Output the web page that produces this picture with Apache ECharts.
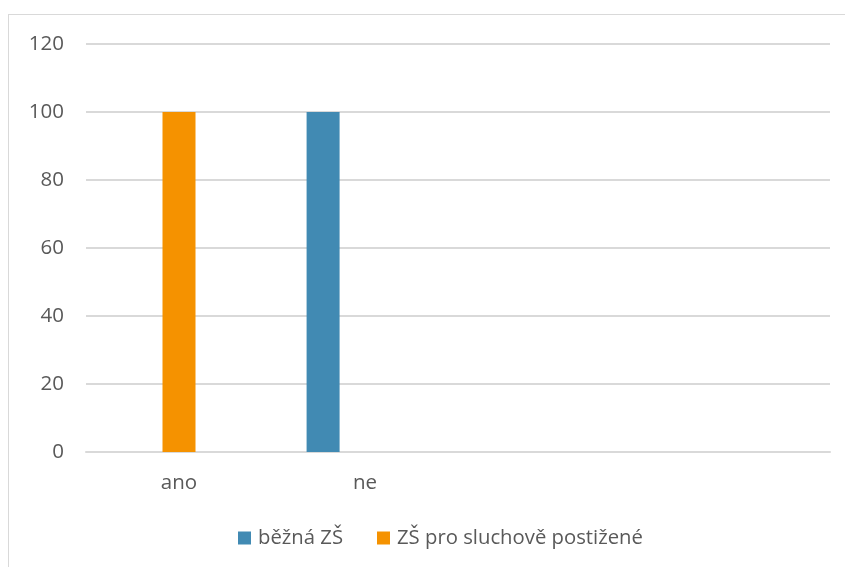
<!DOCTYPE html>
<html>
<head>
<meta charset="utf-8">
<script src="https://cdn.jsdelivr.net/npm/echarts@6/dist/echarts.min.js"></script>
<style>
  html, body { margin: 0; padding: 0; background: #fff; overflow: hidden; }
  #frame {
    position: absolute; left: 8px; top: 14px; width: 900px; height: 600px;
    border: 1px solid #d9d9d9;
  }
  #chart { position: absolute; left: 0; top: 0; width: 845px; height: 567px; }
</style>
</head>
<body>
<div id="frame"></div>
<div id="chart"></div>
<script>
// kategorie a hodnoty
var categories = ['ano', 'ne', '', '']
var bezna = [0, 100, null, null]
var sluchove = [100, 0, null, null]
var yTicks = [0, 20, 40, 60, 80, 100, 120]

var textColor = '#595959'
var chart = echarts.init(document.getElementById('chart'))
chart.setOption({
  animation: false,
  textStyle: { fontFamily: 'Open Sans' },
  legend: {
    bottom: 14,
    left: 233,
    itemWidth: 13,
    itemHeight: 13,
    itemGap: 34,
    icon: 'rect',
    data: ['běžná ZŠ', 'ZŠ pro sluchově postižené'],
    textStyle: { color: textColor, fontSize: 20.3, padding: [0, 0, 0, 2] }
  },
  grid: { left: 86, right: 15, top: 44, bottom: 115 },
  xAxis: {
    type: 'category',
    data: categories,
    axisTick: { show: false },
    axisLine: { lineStyle: { color: '#d9d9d9', width: 2 } },
    axisLabel: { color: textColor, fontSize: 20.5, margin: 21 }
  },
  yAxis: {
    type: 'value',
    min: yTicks[0],
    max: yTicks[yTicks.length - 1],
    interval: 20,
    axisLine: { show: false },
    axisTick: { show: false },
    axisLabel: { color: textColor, fontSize: 20.5, margin: 22 },
    splitLine: { lineStyle: { color: '#d9d9d9', width: 2 } }
  },
  series: [
    {
      name: 'běžná ZŠ',
      type: 'bar',
      barWidth: 33,
      barGap: '27%',
      itemStyle: { color: '#418AB3' },
      data: bezna
    },
    {
      name: 'ZŠ pro sluchově postižené',
      type: 'bar',
      barWidth: 33,
      barGap: '27%',
      itemStyle: { color: '#F59200' },
      data: sluchove
    },
    {
      name: 'rezerva',
      type: 'bar',
      barWidth: 33,
      barGap: '27%',
      data: []
    }
  ]
})
</script>
</body>
</html>
